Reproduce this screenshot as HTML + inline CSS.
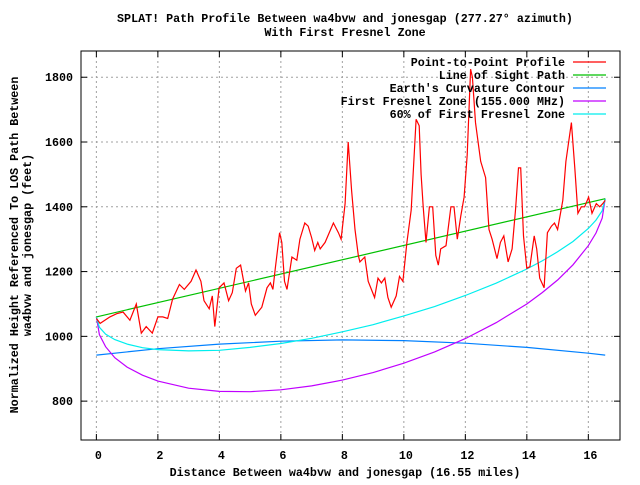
<!DOCTYPE html>
<html><head><meta charset="utf-8"><style>
html,body{margin:0;padding:0;background:#fff;}
svg text{font-family:"Liberation Mono","DejaVu Sans Mono",monospace;font-weight:bold;font-size:11.7px;fill:#000;}
</style></head><body>
<svg id="chart" width="640" height="480" viewBox="0 0 640 480" xmlns="http://www.w3.org/2000/svg">
<rect x="0" y="0" width="640" height="480" fill="#fff"/>
<text x="345" y="22" text-anchor="middle">SPLAT! Path Profile Between wa4bvw and jonesgap (277.27° azimuth)</text>
<text x="345" y="36" text-anchor="middle">With First Fresnel Zone</text>
<g id="grid"></g>
<g id="axes"></g>
<g id="series"></g>
<g id="legend"></g>
<text x="345" y="476" text-anchor="middle">Distance Between wa4bvw and jonesgap (16.55 miles)</text>
<text transform="translate(18,245) rotate(-90)" text-anchor="middle">Normalized Height Referenced To LOS Path Between</text>
<text transform="translate(31,245) rotate(-90)" text-anchor="middle">wa4bvw and jonesgap (feet)</text>
</svg>
<script>
const xTicks=[0,2,4,6,8,10,12,14,16];
const yTicks=[800,1000,1200,1400,1600,1800];
const profileDist=[0,0.12,0.44,0.66,0.87,1.09,1.3,1.46,1.62,1.82,2.0,2.16,2.32,2.48,2.7,2.86,3.08,3.24,3.4,3.5,3.67,3.77,3.85,3.99,4.15,4.3,4.42,4.55,4.69,4.85,4.95,5.04,5.17,5.38,5.55,5.66,5.74,5.82,5.96,6.03,6.12,6.2,6.36,6.52,6.62,6.78,6.89,7.0,7.1,7.2,7.28,7.44,7.71,7.87,7.96,8.09,8.19,8.3,8.41,8.52,8.57,8.73,8.84,9.05,9.16,9.27,9.38,9.48,9.59,9.75,9.86,9.97,10.1,10.24,10.4,10.5,10.56,10.63,10.72,10.83,10.94,11.04,11.12,11.2,11.37,11.53,11.63,11.74,11.85,11.96,12.06,12.17,12.23,12.33,12.5,12.66,12.77,12.87,13.03,13.14,13.25,13.39,13.52,13.63,13.73,13.8,13.89,14.0,14.1,14.24,14.32,14.42,14.56,14.67,14.8,14.9,15.0,15.17,15.27,15.45,15.56,15.66,15.77,15.88,16.01,16.12,16.26,16.37,16.47,16.55];
const profileHeight=[1055,1040,1060,1070,1075,1050,1100,1010,1030,1010,1060,1060,1055,1115,1160,1145,1170,1205,1170,1110,1085,1125,1030,1150,1165,1110,1135,1210,1220,1140,1165,1100,1065,1090,1150,1165,1145,1210,1320,1290,1170,1145,1245,1235,1300,1350,1340,1305,1265,1290,1270,1290,1350,1320,1300,1410,1600,1450,1330,1250,1230,1245,1170,1120,1180,1165,1180,1120,1090,1125,1185,1170,1290,1390,1670,1650,1500,1400,1290,1400,1400,1250,1220,1270,1280,1400,1400,1300,1370,1430,1560,1825,1800,1660,1540,1490,1330,1300,1240,1290,1310,1230,1270,1390,1520,1520,1310,1210,1215,1310,1270,1180,1150,1320,1340,1350,1330,1420,1540,1660,1520,1380,1400,1400,1430,1380,1410,1400,1410,1420];
const losDist=[0,16.55];
const losHeight=[1060,1425];
const earthDist=[0,2,4,6,8,10,12,14,16,16.55];
const earthHeight=[942,962,976,985,989,987,979,966,948,942];
const fresnelDist=[0,0.1,0.3,0.6,1,1.5,2,3,4,5,6,7,8,9,10,11,12,13,14,14.5,15,15.5,16,16.25,16.45,16.55];
const fresnelHeight=[1060,1005,968,934,905,880,862,840,830,829,835,847,865,888,917,952,993,1042,1100,1135,1174,1221,1280,1319,1365,1425];
const fresnel60Height=[1060,1028,1007,990,976,965,959,955,957,966,978,994,1014,1036,1063,1092,1126,1164,1208,1233,1261,1293,1333,1359,1388,1425];
const legendLabels=["Point-to-Point Profile","Line of Sight Path","Earth's Curvature Contour","First Fresnel Zone (155.000 MHz)","60% of First Fresnel Zone"];
const legendColors=["#ff0000","#00c000","#0080ff","#c000ff","#00eeee"];

const NS="http://www.w3.org/2000/svg";
const L=81,R=620,T=51,B=440;
const xMin=-0.5,xMax=17.03,yMin=680,yMax=1881;
function sx(d){return L+(d-xMin)/(xMax-xMin)*(R-L);}
function sy(v){return B-(v-yMin)/(yMax-yMin)*(B-T);}
function mk(tag,attrs,parent){const e=document.createElementNS(NS,tag);for(const k in attrs)e.setAttribute(k,attrs[k]);parent.appendChild(e);return e;}
const grid=document.getElementById('grid'),axes=document.getElementById('axes'),series=document.getElementById('series'),legend=document.getElementById('legend');
xTicks.forEach(t=>{const x=sx(t);
 const g=mk('line',{x1:x,y1:T,x2:x,y2:B,stroke:'#a0a0a0','stroke-width':1,'stroke-dasharray':'2,3'},grid);
 
 
 const a=mk('line',{x1:x,y1:B,x2:x,y2:B-6,stroke:'#000'},axes);
 
 
 const b=mk('line',{x1:x,y1:T,x2:x,y2:T+6,stroke:'#000'},axes);
 
 
 const tx=mk('text',{x:x+2,y:B+19,'text-anchor':'middle'},axes);tx.textContent=t;
 
 
});
yTicks.forEach(t=>{const y=sy(t);
 const g=mk('line',{x1:L,y1:y,x2:R,y2:y,stroke:'#a0a0a0','stroke-width':1,'stroke-dasharray':'2,3'},grid);
 
 
 const a=mk('line',{x1:L,y1:y,x2:L+6,y2:y,stroke:'#000'},axes);
 
 
 const b=mk('line',{x1:R,y1:y,x2:R-6,y2:y,stroke:'#000'},axes);
 
 
 const tx=mk('text',{x:73,y:y+4,'text-anchor':'end'},axes);tx.textContent=t;
 
 
});
const frame=mk('rect',{x:L,y:T,width:R-L,height:B-T,fill:'none',stroke:'#000','stroke-width':1},axes);


function line(ds,vs,color,name){const p=ds.map((d,i)=>sx(d).toFixed(1)+','+sy(vs[i]).toFixed(1)).join(' ');
 const e=mk('polyline',{points:p,fill:'none',stroke:color,'stroke-width':1.2},series);
 
 }
line(earthDist,earthHeight,legendColors[2],'earth-curvature-line');
line(fresnelDist,fresnelHeight,legendColors[3],'fresnel-zone-line');
line(fresnelDist,fresnel60Height,legendColors[4],'fresnel-60-line');
line(losDist,losHeight,legendColors[1],'line-of-sight-line');
line(profileDist,profileHeight,legendColors[0],'terrain-profile-line');
legendLabels.forEach((lab,i)=>{const y=62+i*13;
 const t=mk('text',{x:565,y:y+4,'text-anchor':'end'},legend);t.textContent=lab;
 
 
 const s=mk('line',{x1:573,y1:y,x2:606,y2:y,stroke:legendColors[i],'stroke-width':1.2},legend);
 
 
});
</script>
</body></html>
